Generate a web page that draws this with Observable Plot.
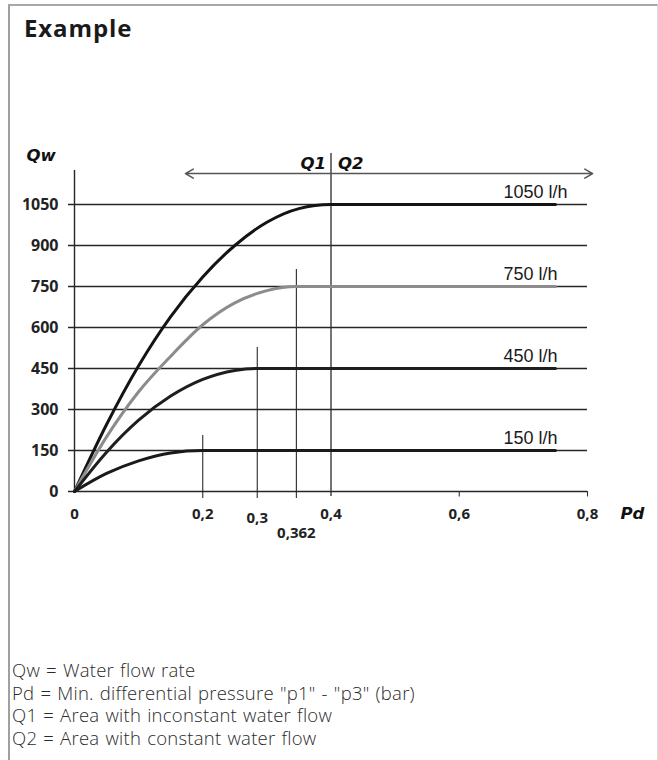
<!DOCTYPE html>
<html>
<head>
<meta charset="utf-8">
<script src="https://cdn.jsdelivr.net/npm/d3@7"></script>
<script src="https://cdn.jsdelivr.net/npm/@observablehq/plot@0.6"></script>
<style>
  html, body { margin: 0; padding: 0; background: #fff; width: 658px; height: 760px; overflow: hidden; }
  #frame { position: absolute; left: 8px; top: 4px; width: 647px; height: 820px;
           border-left: 2px solid #a0a0a0; border-top: 2px solid #a8a8a8; border-right: 1px solid #dcdcdc; }
  #title { position: absolute; left: 24px; top: 13px; font-family: "Open Sans", sans-serif; font-weight: 700;
           font-size: 24px; letter-spacing: 0.9px; line-height: 30px; color: #1a1a1a; }
  #chart { position: absolute; left: 0; top: 0; }
  #caption { position: absolute; left: 12px; top: 659px; font-family: "Open Sans", sans-serif; font-weight: 300;
             font-size: 18.5px; letter-spacing: 0.25px; word-spacing: 1px; line-height: 22.7px; color: #2a2a2a; white-space: nowrap; }
</style>
</head>
<body>
<div id="frame"></div>
<div id="title">Example</div>
<div id="chart"></div>
<div id="caption"></div>
<script>
// ---- data ----
const yTicks = [0, 150, 300, 450, 600, 750, 900, 1050];
const xTicks = [0, 0.2, 0.4, 0.6, 0.8];
const xTickLabels = ["0", "0,2", "0,4", "0,6", "0,8"];
const markerX = [0.2, 0.285, 0.346, 0.4];
const markerLabels = ["0,2", "0,3", "0,362", "0,4"];
const markerTop = [205, 527, 812, 1237];
const flowValues = [1050, 750, 450, 150];
const flowLabels = ["1050 l/h", "750 l/h", "450 l/h", "150 l/h"];

const pd1050 = [0, 0.05, 0.1, 0.15, 0.2, 0.25, 0.3, 0.35, 0.4, 0.75];
const qw1050 = [0, 245, 460, 640, 785, 900, 985, 1035, 1050, 1050];
const pd750 = [0, 0.05, 0.1, 0.15, 0.2, 0.25, 0.3, 0.346, 0.75];
const qw750 = [0, 200, 365, 495, 610, 690, 735, 750, 750];
const pd450 = [0, 0.05, 0.1, 0.15, 0.2, 0.25, 0.285, 0.75];
const qw450 = [0, 144, 261, 349, 410, 443, 450, 450];
const pd150 = [0, 0.05, 0.1, 0.15, 0.2, 0.75];
const qw150 = [0, 66, 112, 141, 150, 150];

const axisYLabel = "Qw";
const axisXLabel = "Pd";
const zoneLabels = ["Q1", "Q2"];
const captionLines = [
  "Qw = Water flow rate",
  "Pd = Min. differential pressure \"p1\" - \"p3\" (bar)",
  "Q1 = Area with inconstant water flow",
  "Q2 = Area with constant water flow"
];

// ---- build tables ----
const series = (pd, qw, name) => pd.map((x, i) => ({x, y: qw[i], name}));
const curves = [
  {data: series(pd1050, qw1050, "1050"), color: "#141414"},
  {data: series(pd750, qw750, "750"), color: "#8c8c8c"},
  {data: series(pd450, qw450, "450"), color: "#1e1e1e"},
  {data: series(pd150, qw150, "150"), color: "#1a1a1a"}
];
const markers = markerX.map((x, i) => ({x, top: markerTop[i], label: markerLabels[i]}));
const flows = flowValues.map((v, i) => ({v, label: flowLabels[i]}));
const xt = xTicks.map((x, i) => ({x, label: xTickLabels[i]}));

const tickFont = {fontFamily: "Open Sans, sans-serif", fontWeight: "bold", fontSize: 15, fill: "#222"};
const yTickFont = {...tickFont, fontSize: 16};
const biFont = {fontFamily: "DejaVu Sans, sans-serif", fontWeight: "bold", fontStyle: "italic", fontSize: 16.5, fill: "#111"};

const chart = Plot.plot({
  width: 658,
  height: 560,
  marginLeft: 74,
  marginRight: 71,
  marginTop: 204,
  marginBottom: 69,
  x: {domain: [0, 0.8], axis: null},
  y: {domain: [0, 1050], axis: null},
  style: {background: "transparent", overflow: "visible"},
  marks: [
    // horizontal grid lines (with small tick to the left of the axis)
    Plot.ruleY(yTicks, {x1: 0, x2: 0.8, insetLeft: -6, stroke: "#262626", strokeWidth: 1.5}),
    // y axis line
    Plot.ruleX([0], {y1: 0, y2: 1174, stroke: "#262626", strokeWidth: 1.4}),
    // vertical marker lines
    Plot.ruleX(markers.slice(0, 3), {x: "x", y1: -26, y2: "top", stroke: "#2a2a2a", strokeWidth: 1.1}),
    Plot.ruleX(markers.slice(3), {x: "x", y1: -18, y2: "top", stroke: "#2a2a2a", strokeWidth: 1.3}),
    // small ticks on x axis
    Plot.ruleX(xTicks.slice(3), {x: d => d, y1: 0, y2: -20, stroke: "#333", strokeWidth: 1.1}),
    // curves
    ...curves.map(c => Plot.line(c.data, {x: "x", y: "y", stroke: c.color, strokeWidth: 3, curve: "monotone-x"})),
    // flow labels
    Plot.text(flows, {x: 0.669, y: "v", text: "label", dy: -12, textAnchor: "start",
      fontFamily: "Liberation Sans, Arial, sans-serif", fontSize: 18, fill: "#1a1a1a"}),
    // y tick labels
    Plot.text(yTicks, {x: 0, y: d => d, text: d => String(d), dx: -16, textAnchor: "end", ...yTickFont}),
    // x tick labels
    Plot.text(xt.filter(d => d.x !== 0.2 && d.x !== 0.4), {x: "x", y: 0, text: "label", dy: 23, ...tickFont}),
    Plot.text(markers.filter(d => d.label === "0,2" || d.label === "0,4"), {x: "x", y: 0, text: "label", dy: 23, ...tickFont}),
    Plot.text(markers.filter(d => d.label === "0,3"), {x: "x", y: 0, text: "label", dy: 27, ...tickFont}),
    Plot.text(markers.filter(d => d.label === "0,362"), {x: "x", y: 0, text: "label", dy: 42, ...tickFont}),
    // double-headed arrow Q1 | Q2
    Plot.arrow([{x1: 0.4, x2: 0.173}], {x1: "x1", x2: "x2", y1: 1163, y2: 1163, stroke: "#555", strokeWidth: 1.5, headLength: 9, bend: 0}),
    Plot.arrow([{x1: 0.4, x2: 0.808}], {x1: "x1", x2: "x2", y1: 1163, y2: 1163, stroke: "#555", strokeWidth: 1.5, headLength: 9, bend: 0}),
    Plot.text([zoneLabels[0]], {x: 0.4, y: 1200, text: d => d, dx: -5, textAnchor: "end", ...biFont}),
    Plot.text([zoneLabels[1]], {x: 0.4, y: 1200, text: d => d, dx: 7, textAnchor: "start", ...biFont}),
    // axis titles
    Plot.text([axisYLabel], {x: 0, y: 1229, text: d => d, dx: -48, textAnchor: "start", ...biFont}),
    Plot.text([axisXLabel], {x: 0.8, y: 0, text: d => d, dx: 33, dy: 22, textAnchor: "start", ...biFont})
  ]
});
document.getElementById("chart").appendChild(chart);
document.getElementById("caption").innerHTML = captionLines.map(s => `<div>${s.replace(/&/g,"&amp;").replace(/</g,"&lt;")}</div>`).join("");
</script>
</body>
</html>
